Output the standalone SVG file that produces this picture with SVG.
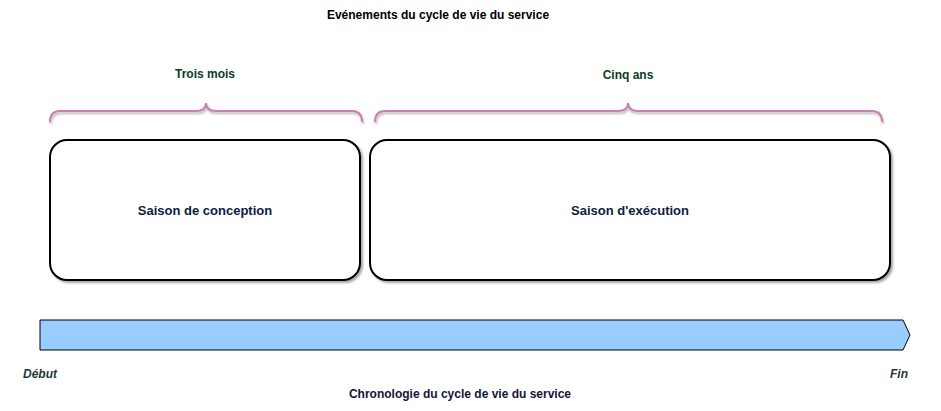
<svg xmlns="http://www.w3.org/2000/svg" width="941" height="411" viewBox="0 0 941 411">
<defs>
<filter id="sh" x="-5%" y="-5%" width="115%" height="115%">
<feGaussianBlur in="SourceAlpha" stdDeviation="1.2"/>
<feOffset dx="2" dy="2" result="b"/>
<feComponentTransfer><feFuncA type="linear" slope="0.35"/></feComponentTransfer>
<feMerge><feMergeNode/><feMergeNode in="SourceGraphic"/></feMerge>
</filter>
<filter id="bsh" x="-5%" y="-50%" width="110%" height="200%">
<feGaussianBlur in="SourceAlpha" stdDeviation="0.8"/>
<feOffset dx="1" dy="2"/>
<feComponentTransfer><feFuncA type="linear" slope="0.3"/></feComponentTransfer>
<feMerge><feMergeNode/><feMergeNode in="SourceGraphic"/></feMerge>
</filter>
</defs>
<style>
text{font-family:"Liberation Sans",Arial,sans-serif;font-weight:bold}
.box{fill:#fff;stroke:#000;stroke-width:2}
.lbl{font-size:13px;fill:#0b2140;text-anchor:middle}
.dur{font-size:12px;fill:#0b3d1f;text-anchor:middle}
.brace{fill:none;stroke:#c97fb0;stroke-width:2}
.end{font-size:12px;fill:#1c3a3a;font-style:italic}
</style>
<rect width="941" height="411" fill="#fff"/>
<text x="438" y="19" font-size="12" fill="#000" text-anchor="middle">Evénements du cycle de vie du service</text>
<g id="brace-trois">
<path class="brace" filter="url(#bsh)" d="M50,122 Q50,111 60,111 L196,111 Q206,111 206,103 Q206,111 216,111 L352,111 Q362,111 362,122"/>
<text class="dur" x="205" y="78">Trois mois</text>
</g>
<g id="brace-cinq">
<path class="brace" filter="url(#bsh)" d="M375,122 Q375,111 385,111 L618,111 Q628,111 628,103 Q628,111 638,111 L872,111 Q882,111 882,122"/>
<text class="dur" x="628" y="79">Cinq ans</text>
</g>
<g id="conception">
<rect class="box" filter="url(#sh)" x="50" y="140" width="310" height="140" rx="17"/>
<text class="lbl" x="205" y="215">Saison de conception</text>
</g>
<g id="execution">
<rect class="box" filter="url(#sh)" x="370" y="140" width="520" height="140" rx="17"/>
<text class="lbl" x="630" y="215">Saison d'exécution</text>
</g>
<g id="timeline">
<path d="M40,320 L903,320 L910,335 L903,350 L40,350 Z" fill="#99ccff" stroke="#000" stroke-width="1"/>
</g>
<text class="end" x="23" y="378">Début</text>
<text class="end" x="890" y="378">Fin</text>
<text x="460" y="398" font-size="12" fill="#14143c" text-anchor="middle">Chronologie du cycle de vie du service</text>
</svg>
